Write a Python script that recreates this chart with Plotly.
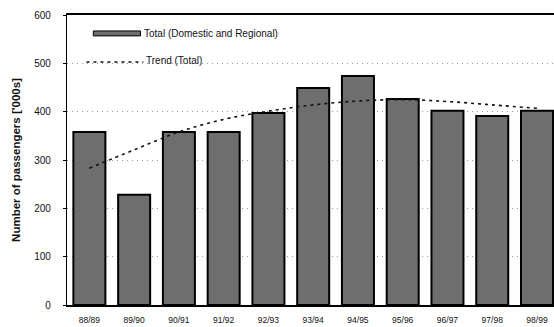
import plotly.graph_objects as go

# Passenger totals per financial year ('000s)
years = ["88/89", "89/90", "90/91", "91/92", "92/93", "93/94",
         "94/95", "95/96", "96/97", "97/98", "98/99"]
total_passengers = [358, 228, 358, 358, 397, 449, 474, 426, 402, 391, 402]
trend_total = [283, 321, 358, 384, 401, 414, 422, 425, 421, 414, 407]

y_ticks = [0, 100, 200, 300, 400, 500, 600]

FONT = "Liberation Sans, Arial, sans-serif"

fig = go.Figure()

fig.add_trace(go.Bar(
    x=years,
    y=total_passengers,
    name="Total (Domestic and Regional)",
    marker=dict(color="#6e6e6e", line=dict(color="#000000", width=2)),
    showlegend=False,
))

fig.add_trace(go.Scatter(
    x=years,
    y=trend_total,
    name="Trend (Total)",
    mode="lines",
    line=dict(color="#111111", width=1.6, dash="3px,4px", shape="spline"),
    showlegend=False,
))

# Hand-drawn legend in the upper-left of the plot area
fig.add_shape(type="rect", xref="paper", yref="paper",
              x0=0.054, x1=0.151, y0=0.928, y1=0.945,
              fillcolor="#6e6e6e", line=dict(color="#000000", width=1))
fig.add_annotation(xref="paper", yref="paper", x=0.153, y=0.937,
                   text="Total (Domestic and Regional)", showarrow=False,
                   xanchor="left", yanchor="middle",
                   font=dict(family=FONT, size=10, color="#111111"))
fig.add_shape(type="line", xref="paper", yref="paper",
              x0=0.04, x1=0.157, y0=0.838, y1=0.838,
              line=dict(color="#111111", width=1.4, dash="3px,4px"))
fig.add_annotation(xref="paper", yref="paper", x=0.158, y=0.842,
                   text="Trend (Total)", showarrow=False,
                   xanchor="left", yanchor="middle",
                   font=dict(family=FONT, size=10, color="#111111"))

fig.update_layout(
    width=554, height=327,
    margin=dict(l=67, r=0, t=15, b=22),
    paper_bgcolor="white",
    plot_bgcolor="white",
    bargap=0.285,
    font=dict(family=FONT, size=9, color="#111111"),
    xaxis=dict(
        type="category",
        range=[-0.5, 10.38],
        showline=True, linecolor="#000000", linewidth=1.5,
        mirror=True,
        showgrid=False,
        ticks="",
        ticklabelstandoff=6,
        tickfont=dict(family=FONT, size=8.5, color="#111111"),
        fixedrange=True,
    ),
    yaxis=dict(
        range=[0, 600],
        tickvals=y_ticks,
        showline=True, linecolor="#000000", linewidth=1.2,
        ticks="outside", ticklen=3, tickcolor="#000000",
        ticklabelstandoff=10,
        showgrid=True, gridcolor="#999999", griddash="1px,4px", gridwidth=1,
        zeroline=False,
        tickfont=dict(family=FONT, size=10, color="#111111"),
        title=dict(text="<b>Number of passengers ['000s]</b>",
                   font=dict(family=FONT, size=11.5, color="#111111"),
                   standoff=11),
    ),
)

fig.write_html("out.html")
